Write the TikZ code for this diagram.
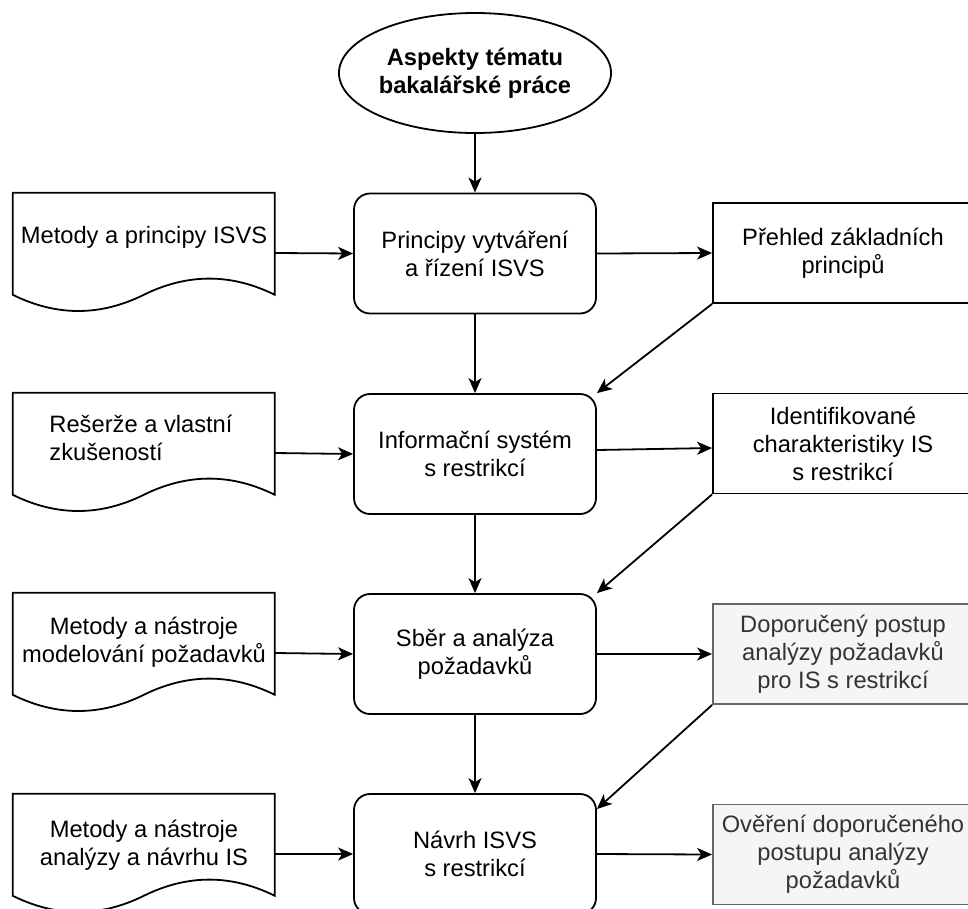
\documentclass[tikz,border=0pt]{standalone}
\usepackage{fontspec}
\setmainfont{Liberation Sans}
\usetikzlibrary{shapes.geometric,arrows.meta,calc}
\definecolor{grayfill}{HTML}{F5F5F5}
\definecolor{graystroke}{HTML}{666666}
\definecolor{graytext}{HTML}{333333}

\begin{document}
\begin{tikzpicture}[x=1pt,y=-1pt,
  every node/.style={font=\fontsize{23.7}{28}\selectfont, align=center, inner sep=0pt},
  line/.style={line width=1.8pt},
  flow/.style={line, -{Stealth[length=15pt,width=13pt,inset=4pt]}},
  process/.style={draw, line width=1.8pt, rounded corners=16pt,
    minimum width=242pt, minimum height=120pt},
  topic/.style={draw, ellipse, line width=1.8pt, minimum width=244pt,
    minimum height=120pt, font=\fontsize{23.7}{28}\selectfont\bfseries},
  result/.style={draw, line width=1.8pt, minimum width=260pt, minimum height=100pt},
  pending/.style={result, draw=graystroke, fill=grayfill, text=graytext},
  docarea/.style={minimum width=262pt, minimum height=120pt},
]
\useasboundingbox (0,0) rectangle (968,908);
\clip (0,0) rectangle (968,908);

% topic
\node[topic] (ell) at (475,73) {Aspekty tématu\\bakalářské práce};

% main process column
\node[process] (m1) at (475,253.5) {Principy vytváření\\a řízení ISVS};
\node[process] (m2) at (475,454) {Informační systém\\s restrikcí};
\node[process] (m3) at (475,654) {Sběr a analýza\\požadavků};
\node[process] (m4) at (475,854) {Návrh ISVS\\s restrikcí};

% results column
\node[result]  (r1) at (843,253)   {Přehled základních\\principů};
\node[result]  (r2) at (843,443.5) {Identifikované\\charakteristiky IS\\s restrikcí};
\node[pending] (r3) at (843,654)   {Doporučený postup\\analýzy požadavků\\pro IS s restrikcí};
\node[pending] (r4) at (843,854.5) {Ověření doporučeného\\postupu analýzy\\požadavků};

% input documents
\node[docarea] (d1) at (144,253) {};
\node[docarea] (d2) at (144,453) {};
\node[docarea] (d3) at (144,653) {};
\node[docarea] (d4) at (144,854) {};
\foreach \n in {d1,d2,d3,d4}{
  \begin{scope}[shift={(\n.north west)}]
    \draw[line, line join=miter] (0,0) -- (262,0) -- (262,102)
      .. controls (218.33,80.4) and (174.67,80.4) .. (131,102)
      .. controls (87.33,123.6) and (43.67,123.6) .. (0,102) -- cycle;
  \end{scope}
}
\node (d1t) at (144,237) {Metody a principy ISVS};
\node[align=left] (d2t) at (141,438) {Rešerže a vlastní\\zkušeností};
\node (d3t) at (144,642) {Metody a nástroje\\modelování požadavků};
\node (d4t) at (144,845) {Metody a nástroje\\analýzy a návrhu IS};

% connectors
\draw[flow] (ell) -- (m1);
\draw[flow] (m1) -- (m2);
\draw[flow] (m2) -- (m3);
\draw[flow] (m3) -- (m4);

\draw[flow] (d1.east) -- (m1.west);
\draw[flow] (d2.east) -- (m2.west);
\draw[flow] (d3.east) -- (m3.west);
\draw[flow] (d4.east) -- (m4.west);

\draw[flow] (m1.east) -- (r1.west);
\draw[flow] ([yshift=4pt]m2.east) -- ([yshift=-4.5pt]r2.west);
\draw[flow] (m3.east) -- (r3.west);
\draw[flow] (m4.east) -- (r4.west);

\draw[flow] (r1.south west) -- (m2.north east);
\draw[flow] (r2.south west) -- (m3.north east);
\draw[flow] (r3.south west) -- ([yshift=-16pt]m4.north east);
\end{tikzpicture}
\end{document}
